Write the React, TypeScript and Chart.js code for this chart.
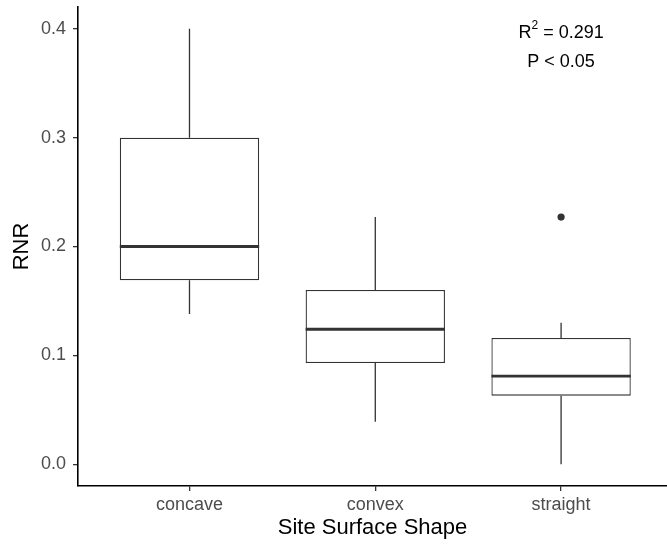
import React, { useEffect, useRef } from "react";
import { Chart, registerables } from "chart.js";

Chart.register(...registerables);

const categories = ["concave", "convex", "straight"];
const whiskerLow = [0.138, 0.039, 0.0];
const q1 = [0.169, 0.093, 0.063];
const median = [0.2, 0.124, 0.081];
const q3 = [0.3, 0.16, 0.116];
const whiskerHigh = [0.4, 0.227, 0.13];
const outlierCategory = ["straight"];
const outlierValue = [0.227];
const yTicks = [0, 0.1, 0.2, 0.3, 0.4];
const annotationLines = ["R2 = 0.291", "P < 0.05"];

const FAMILY = "'Liberation Sans', Arial, Helvetica, sans-serif";

const boxPlugin = {
  id: "boxParts",
  afterDatasetsDraw(chart: any) {
    const ctx = chart.ctx;
    const xs = chart.scales.x;
    const ys = chart.scales.y;
    const meta = chart.getDatasetMeta(0);
    ctx.save();
    ctx.strokeStyle = "#333333";
    ctx.lineCap = "butt";
    categories.forEach((_, i) => {
      const bar = meta.data[i];
      const cx = xs.getPixelForValue(i + 1);
      const half = bar.width / 2;
      ctx.lineWidth = 1.3;
      ctx.beginPath();
      ctx.moveTo(cx, ys.getPixelForValue(q3[i]));
      ctx.lineTo(cx, ys.getPixelForValue(whiskerHigh[i]));
      ctx.moveTo(cx, ys.getPixelForValue(q1[i]));
      ctx.lineTo(cx, ys.getPixelForValue(whiskerLow[i]));
      ctx.stroke();
      ctx.lineWidth = 2.8;
      ctx.beginPath();
      const my = ys.getPixelForValue(median[i]);
      ctx.moveTo(cx - half, my);
      ctx.lineTo(cx + half, my);
      ctx.stroke();
    });
    ctx.fillStyle = "#000000";
    ctx.textBaseline = "middle";
    const ax = xs.getPixelForValue(3);
    const y1 = ys.getPixelForValue(0.396);
    const y2 = ys.getPixelForValue(0.369);
    const big = "18px " + FAMILY;
    const small = "12px " + FAMILY;
    const [first, second] = annotationLines;
    const pre = first.slice(0, 1);
    const sup = first.slice(1, 2);
    const post = " " + first.slice(3);
    ctx.font = big;
    const wPre = ctx.measureText(pre).width;
    const wPost = ctx.measureText(post).width;
    ctx.font = small;
    const wSup = ctx.measureText(sup).width;
    const total = wPre + wSup + wPost;
    let x = ax - total / 2;
    ctx.textAlign = "left";
    ctx.font = big;
    ctx.fillText(pre, x, y1);
    x += wPre;
    ctx.font = small;
    ctx.fillText(sup, x, y1 - 7);
    x += wSup;
    ctx.font = big;
    ctx.fillText(post, x, y1);
    ctx.textAlign = "center";
    ctx.fillText(second, ax, y2);
    ctx.restore();
  },
};

export default function App() {
  const ref = useRef<HTMLCanvasElement | null>(null);

  useEffect(() => {
    if (!ref.current) return;
    const tickFont = { size: 18, family: FAMILY };
    const titleFont = { size: 22, family: FAMILY };
    const chart = new Chart(ref.current, {
      type: "bar",
      data: {
        datasets: [
          {
            type: "bar",
            data: categories.map((_, i) => ({ x: i + 1, y: [q1[i], q3[i]] })) as any,
            backgroundColor: "#ffffff",
            borderColor: "#333333",
            borderWidth: 1.3,
            borderSkipped: false,
            barPercentage: 0.75,
            categoryPercentage: 1,
          },
          {
            type: "scatter",
            data: outlierCategory.map((c, i) => ({
              x: categories.indexOf(c) + 1,
              y: outlierValue[i],
            })),
            backgroundColor: "#333333",
            borderWidth: 0,
            pointRadius: 3.6,
          } as any,
        ],
      },
      options: {
        animation: false,
        responsive: false,
        layout: { autoPadding: false, padding: { top: 7, left: 0, right: 0, bottom: 0 } },
        plugins: { legend: { display: false }, tooltip: { enabled: false } },
        scales: {
          x: {
            type: "linear",
            min: 0.4,
            max: 3.57,
            offset: false,
            afterBuildTicks: (s: any) => {
              s.ticks = categories.map((_, i) => ({ value: i + 1 }));
            },
            afterFit: (s: any) => {
              s.height = 60;
              s.paddingLeft = 0;
              s.paddingRight = 0;
            },
            ticks: {
              callback: (_v: any, i: number) => categories[i],
              color: "#4d4d4d",
              font: tickFont,
              padding: 3,
              maxRotation: 0,
              autoSkip: false,
            },
            grid: {
              offset: false,
              drawOnChartArea: false,
              drawTicks: true,
              tickLength: 5,
              color: "#333333",
              lineWidth: 1.3,
            },
            border: { display: true, color: "#000000", width: 1.6 },
            title: {
              display: true,
              text: "Site Surface Shape",
              color: "#000000",
              font: titleFont,
              padding: { top: 0, bottom: 5 },
            },
          },
          y: {
            type: "linear",
            min: -0.02,
            max: 0.42,
            afterBuildTicks: (s: any) => {
              s.ticks = yTicks.map((v) => ({ value: v }));
            },
            afterFit: (s: any) => {
              s.width = 78;
              s.paddingTop = 0;
              s.paddingBottom = 0;
              s.paddingLeft = 0;
              s.paddingRight = 0;
            },
            ticks: {
              callback: (v: any) => Number(v).toFixed(1),
              color: "#4d4d4d",
              font: tickFont,
              padding: 7,
            },
            grid: {
              drawOnChartArea: false,
              drawTicks: true,
              tickLength: 5,
              color: "#333333",
              lineWidth: 1.3,
            },
            border: { display: true, color: "#000000", width: 1.6 },
            title: {
              display: true,
              text: "RNR",
              color: "#000000",
              font: titleFont,
              padding: { top: 9, bottom: 0 },
            },
          },
        },
      },
      plugins: [boxPlugin],
    });
    return () => chart.destroy();
  }, []);

  return (
    <div style={{ position: "absolute", left: 0, top: 0, width: 667, height: 546, background: "#fff" }}>
      <canvas ref={ref} width={667} height={546} style={{ display: "block" }} />
    </div>
  );
}
